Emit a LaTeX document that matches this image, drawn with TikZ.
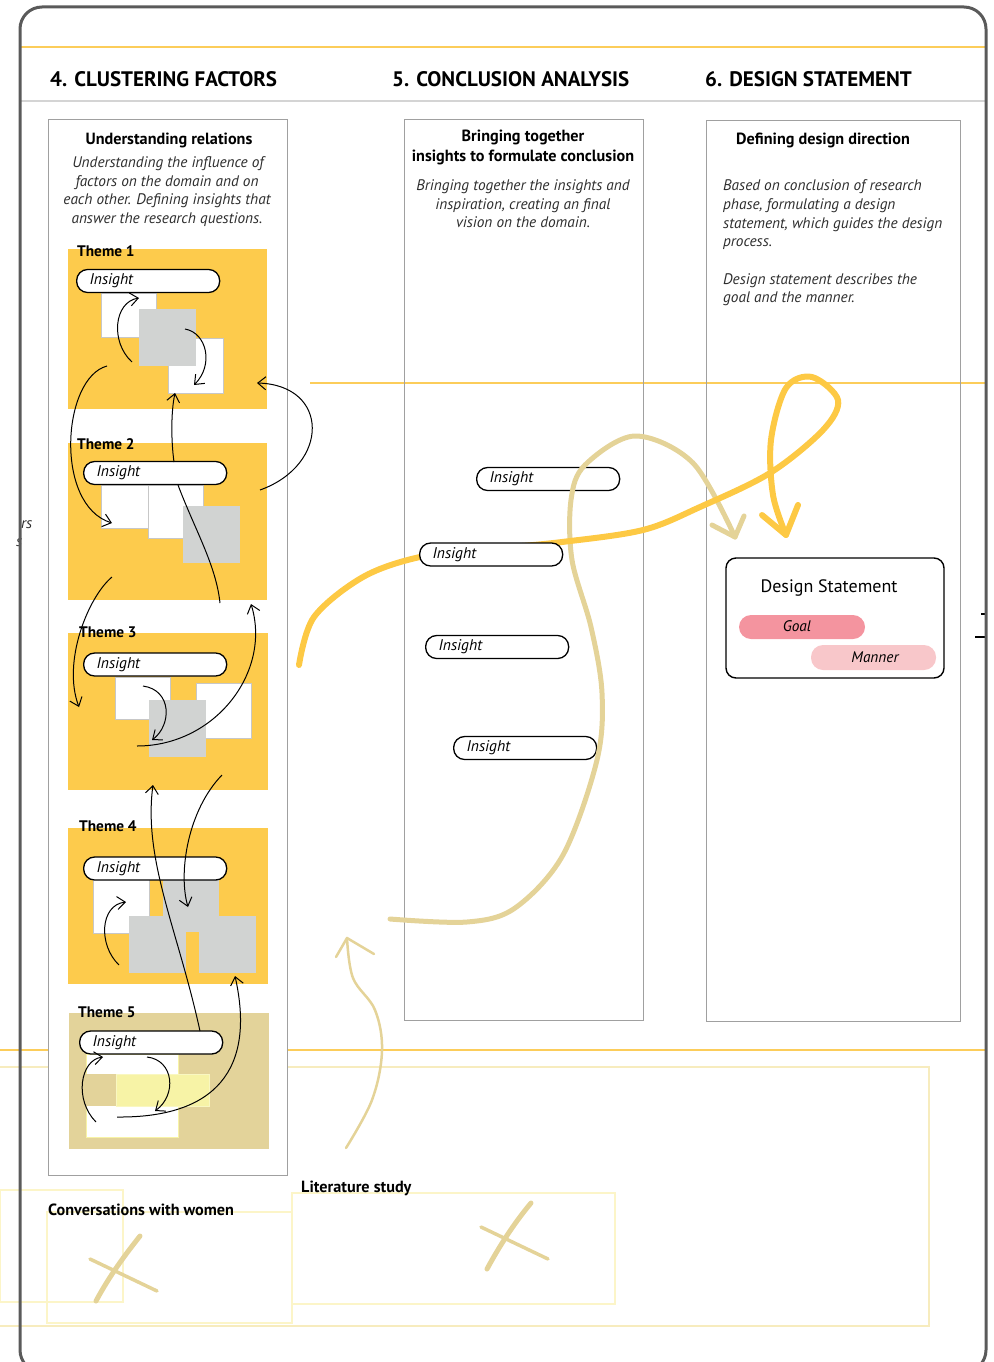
\documentclass[tikz,border=0pt]{standalone}
\usepackage{fontspec}
\setmainfont{PT Sans}
\usetikzlibrary{arrows.meta}
\definecolor{themeyellow}{RGB}{253,203,76}
\definecolor{sqgray}{RGB}{209,211,210}
\definecolor{themebeige}{RGB}{227,211,154}
\definecolor{paleyellow}{RGB}{247,243,166}
\definecolor{flowyellow}{RGB}{253,201,68}
\definecolor{flowbeige}{RGB}{228,211,152}
\definecolor{goalpink}{RGB}{244,148,159}
\definecolor{mannerpink}{RGB}{248,199,202}
\definecolor{framegray}{RGB}{90,90,90}
\definecolor{boxgray}{RGB}{160,160,160}
\definecolor{rulegray}{RGB}{212,212,212}
\definecolor{lineyellow}{RGB}{252,205,90}
\definecolor{faintbox}{RGB}{247,236,190}
\definecolor{faintyellow}{RGB}{252,245,200}
\definecolor{bodytext}{RGB}{45,45,45}
\begin{document}
\begin{tikzpicture}[x=1pt,y=-1pt,
  heading/.style={anchor=base west, inner sep=0, font=\bfseries\fontsize{21}{21}\selectfont},
  boxtitle/.style={anchor=base, inner sep=0, font=\bfseries\fontsize{16.2}{16.2}\selectfont},
  bodyline/.style={anchor=base, inner sep=0, text=bodytext, font=\itshape\fontsize{15.3}{15.3}\selectfont},
  bodyleft/.style={bodyline, anchor=base west},
  themelabel/.style={anchor=base west, inner sep=0, font=\bfseries\fontsize{15.3}{15.3}\selectfont},
  sourcelabel/.style={anchor=base west, inner sep=0, font=\bfseries\fontsize{16.2}{16.2}\selectfont},
  insight/.style={draw, line width=1.3, rounded corners=11, fill=white, anchor=west,
    minimum height=23, text width=117, inner xsep=13, inner ysep=0, align=left,
    font=\itshape\fontsize{15.5}{15.5}\selectfont},
  colbox/.style={draw=boxgray, line width=0.9},
  whitesq/.style={fill=white, draw=black!22, line width=0.5},
  graysq/.style={fill=sqgray},
  sketcharrow/.style={draw=black, line width=1, -{Straight Barb[length=8pt,width=13pt]}},
  sketchline/.style={draw=black, line width=1},
  beigeflow/.style={draw=flowbeige, line width=5, line cap=round, line join=round},
  yellowflow/.style={draw=flowyellow, line width=6, line cap=round, line join=round},
  thinbeige/.style={draw=flowbeige, line width=2.5, line cap=round, line join=round},
  faint/.style={draw=faintyellow, line width=1.2},
  pillfill/.style={rounded corners=12, inner sep=0, minimum height=24, minimum width=126},
  pilltext/.style={anchor=base, inner sep=0, font=\itshape\fontsize{15.3}{15.3}\selectfont}
]
\useasboundingbox (0,0) rectangle (993,1362);

% ---- page rules ----
\draw[lineyellow, line width=1.2] (20,47) -- (987,47);
\draw[rulegray, line width=2.2] (20,101) -- (987,101);
\draw[lineyellow, line width=1.3] (310,383) -- (987,383);
\draw[lineyellow, line width=1.5] (0,1050) -- (987,1050);

% ---- faint source boxes at the bottom ----
\draw[faintbox, line width=1.5] (-5,1067) rectangle (929,1326);
\draw[faint] (0,1190) rectangle (123,1302);
\draw[faint] (47,1212) rectangle (292,1323);
\draw[faint] (292,1193) rectangle (615,1304);
\node[sourcelabel] (convlabel) at (48,1215) {Conversations with women};
\node[sourcelabel] (litlabel) at (301,1192) {Literature study};
\draw[flowbeige, line width=5, line cap=round] (96,1301) .. controls (110,1275) and (125,1255) .. (140,1236);
\draw[flowbeige, line width=3.5, line cap=round] (90,1259) -- (157,1291);
\draw[flowbeige, line width=5, line cap=round] (487,1269) .. controls (500,1245) and (515,1222) .. (531,1203);
\draw[flowbeige, line width=3.5, line cap=round] (481,1227) -- (548,1259);

% ---- headings ----
\node[heading] (h4) at (50,87) {4. CLUSTERING FACTORS};
\node[heading] (h5) at (392,87) {5. CONCLUSION ANALYSIS};
\node[heading] (h6) at (705,87) {6. DESIGN STATEMENT};

% ---- column boxes ----
\draw[colbox, fill=white] (48,119) rectangle (287,1175);
\draw[colbox] (404,119) rectangle (643,1020);
\draw[colbox] (706,120) rectangle (960,1021);

% column 4 text
\node[boxtitle] (c4t) at (169,145) {Understanding relations};
\node[bodyline] (c4l1) at (168,167) {Understanding the influence of};
\node[bodyline] (c4l2) at (167,186) {factors on the domain and on};
\node[bodyline] (c4l3) at (167,204) {each other. Defining insights that};
\node[bodyline] (c4l4) at (167,223) {answer the research questions.};

% column 5 text
\node[boxtitle] (c5t1) at (523,142) {Bringing together};
\node[boxtitle] (c5t2) at (523,161) {insights to formulate conclusion};
\node[bodyline] (c5l1) at (523,190) {Bringing together the insights and};
\node[bodyline] (c5l2) at (523,209) {inspiration, creating an final};
\node[bodyline] (c5l3) at (523,227) {vision on the domain.};

% column 6 text
\node[boxtitle] (c6t) at (823,145) {Defining design direction};
\node[bodyleft] (c6l1) at (723,190) {Based on conclusion of research};
\node[bodyleft] (c6l2) at (723,209) {phase, formulating a design};
\node[bodyleft] (c6l3) at (723,228) {statement, which guides the design};
\node[bodyleft] (c6l4) at (723,246) {process.};
\node[bodyleft] (c6l5) at (723,284) {Design statement describes the};
\node[bodyleft] (c6l6) at (723,302) {goal and the manner.};

% ---- theme 1 ----
\fill[themeyellow] (68,249) rectangle (267,409);
\draw[whitesq] (101,293) rectangle (156,337);
\draw[whitesq] (168,338) rectangle (223,393);
\fill[graysq] (139,309) rectangle (196,366);
\node[themelabel] (th1) at (77,256) {Theme 1};
\node[insight] (ti1) at (76,281) {Insight};

% ---- theme 2 ----
\fill[themeyellow] (68,443) rectangle (267,600);
\draw[whitesq] (101,485) rectangle (148,528);
\draw[whitesq] (148,485) rectangle (203,538);
\fill[graysq] (183,506) rectangle (240,563);
\node[themelabel] (th2) at (77,449) {Theme 2};
\node[insight] (ti2) at (83,473) {Insight};

% ---- theme 3 ----
\fill[themeyellow] (68,633) rectangle (268,790);
\draw[whitesq] (115,677) rectangle (170,719);
\draw[whitesq] (196,683) rectangle (251,738);
\fill[graysq] (149,700) rectangle (206,757);
\node[themelabel] (th3) at (79,637) {Theme 3};
\node[insight] (ti3) at (83,664.5) {Insight};

% ---- theme 4 ----
\fill[themeyellow] (68,828) rectangle (268,984);
\draw[whitesq] (93,879) rectangle (149,933);
\fill[graysq] (163,879) rectangle (219,932);
\fill[graysq] (129,916) rectangle (186,973);
\fill[graysq] (199,916) rectangle (256,973);
\node[themelabel] (th4) at (79,831) {Theme 4};
\node[insight] (ti4) at (83,868.5) {Insight};

% ---- theme 5 ----
\fill[themebeige] (69,1013) rectangle (269,1149);
\draw[fill=white, draw=paleyellow, line width=1] (86,1054) rectangle (178,1137);
\fill[themebeige] (86,1074) rectangle (116,1106);
\draw[fill=paleyellow, draw=paleyellow!70!white, line width=0.6] (116,1074) rectangle (209,1106);
\node[themelabel] (th5) at (78,1017) {Theme 5};
\node[insight] (ti5) at (79,1042.5) {Insight};

% ---- sketched relation arrows between factors ----
\coordinate (a1s) at (132,362);  \coordinate (a1e) at (139,298);
\coordinate (a2s) at (185,329);  \coordinate (a2e) at (194,385);
\coordinate (a3s) at (107,366);  \coordinate (a3e) at (112,523);
\coordinate (a4s) at (174,462);  \coordinate (a4e) at (175,393);
\coordinate (a5s) at (260,490);  \coordinate (a5e) at (257,383);
\coordinate (b1s) at (178,485);  \coordinate (b1e) at (220,603);
\coordinate (b2s) at (112,577);  \coordinate (b2e) at (79,707);
\coordinate (b3s) at (137,746);  \coordinate (b3e) at (251,604);
\coordinate (c1s) at (143,686);  \coordinate (c1e) at (152,740);
\coordinate (d1s) at (200,1031); \coordinate (d1e) at (153,785);
\coordinate (d2s) at (222,775);  \coordinate (d2e) at (188,907);
\coordinate (e1s) at (119,965);  \coordinate (e1e) at (126,902);
\coordinate (e2s) at (117,1117); \coordinate (e2e) at (235,976);
\coordinate (f1s) at (96,1122);  \coordinate (f1e) at (103,1057);
\coordinate (f2s) at (147,1057); \coordinate (f2e) at (155,1111);

\draw[sketcharrow] (a1s) .. controls (110,342) and (114,302) .. (a1e);
\draw[sketcharrow] (a2s) .. controls (207,333) and (214,365) .. (a2e);
\draw[sketcharrow] (a3s) .. controls (62,378) and (54,505) .. (a3e);
\draw[sketcharrow] (a4s) .. controls (171,440) and (171,412) .. (a4e);
\draw[sketcharrow] (a5s) .. controls (330,465) and (330,385) .. (a5e);
\draw[sketchline]  (b1s) .. controls (195,530) and (216,565) .. (b1e);
\draw[sketcharrow] (b2s) .. controls (88,597) and (62,662) .. (b2e);
\draw[sketcharrow] (b3s) .. controls (215,746) and (272,672) .. (b3e);
\draw[sketcharrow] (c1s) .. controls (172,690) and (172,725) .. (c1e);
\draw[sketcharrow] (d1s) .. controls (178,930) and (143,860) .. (d1e);
\draw[sketcharrow] (d2s) .. controls (188,810) and (178,872) .. (d2e);
\draw[sketcharrow] (e1s) .. controls (98,945) and (100,905) .. (e1e);
\draw[sketcharrow] (e2s) .. controls (215,1118) and (256,1070) .. (e2e);
\draw[sketcharrow] (f1s) .. controls (74,1100) and (80,1060) .. (f1e);
\draw[sketcharrow] (f2s) .. controls (174,1060) and (177,1095) .. (f2e);

% ---- conclusion insights ----
\node[insight] (ci1) at (476,479) {Insight};
\node[insight] (ci3) at (425,647) {Insight};
\node[insight] (ci4) at (453,748) {Insight};

% ---- design statement ----
\node[draw, line width=1.4, rounded corners=10, minimum width=218, minimum height=120, inner sep=0] (ds) at (835,618) {};
\node[anchor=base, inner sep=0, font=\fontsize{18}{18}\selectfont] (dst) at (829,592) {Design Statement};
\node[pillfill, fill=goalpink] (goal) at (802,627) {};
\node[pilltext] (goalt) at (797,631) {Goal};
\node[pillfill, fill=mannerpink, minimum width=125, minimum height=25] (manner) at (873.5,657.5) {};
\node[pilltext] (mannert) at (875,662) {Manner};

% ---- flows from sources to the design statement ----
\coordinate (lits) at (346,1148);
\coordinate (lite) at (347,938);
\draw[thinbeige] plot[smooth, tension=0.6] coordinates {(lits) (372,1100) (382,1051) (375,1010) (353,978) (lite)};
\draw[thinbeige] (336,957) -- (lite) -- (374,954);

\coordinate (bfs) at (390,919);
\coordinate (bfe) at (735,537);
\draw[beigeflow] plot[smooth, tension=0.55] coordinates {(bfs) (467,922) (515,908) (563,855) (597,760) (602,693) (591,627) (572,560) (571,500) (585,465) (635,436) (693,463) (bfe)};
\draw[beigeflow] (712,525) -- (bfe) -- (744,516);

\coordinate (yfs) at (299,665);
\coordinate (yfe) at (786,535);
\draw[yellowflow] plot[smooth, tension=0.55] coordinates {(yfs) (314,617) (363,577) (420,557) (490,549) (562,542) (643,530) (700,507) (770,473) (823,430) (838,400) (812,377) (786,388) (771,440) (773,495) (yfe)};
\draw[yellowflow] (762,515) -- (yfe) -- (798,505);

\node[insight] (ci2) at (419,554.5) {Insight};

% ---- cut-off marks at the page edges ----
\node[anchor=base west, inner sep=0, text=bodytext, font=\itshape\fontsize{15.3}{15.3}\selectfont] (edgel) at (21,528) {rs};
\node[anchor=base west, inner sep=0, text=bodytext, font=\itshape\fontsize{15.3}{15.3}\selectfont] (edgel2) at (16,546) {s};
\draw[black, line width=2] (981,614) -- (987,614);
\draw[black, line width=2] (975,637) -- (987,637);

% ---- outer frame ----
\draw[framegray, line width=3, rounded corners=22] (20,7) rectangle (986,1372);
\end{tikzpicture}
\end{document}
